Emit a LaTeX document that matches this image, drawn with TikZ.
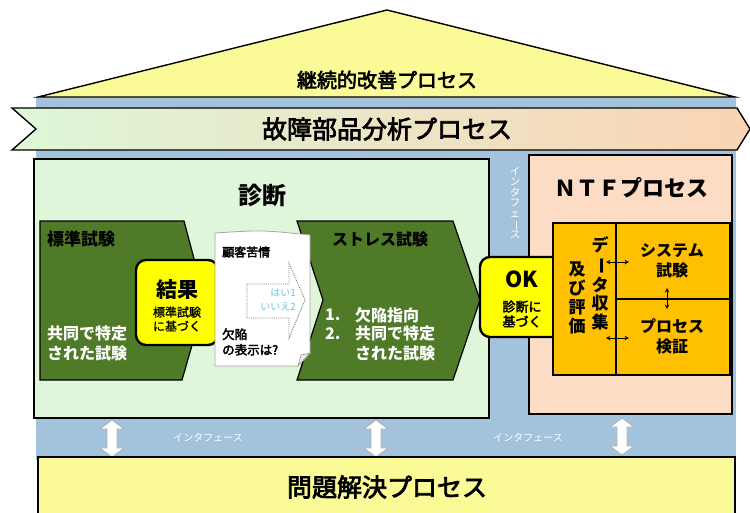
\documentclass[tikz,border=0pt]{standalone}
\usepackage{fontspec}
\setmainfont{Noto Sans CJK JP}
\newfontfamily\jpmed[FakeBold=3]{Noto Sans CJK JP}
\newfontfamily\jpsemi[FakeBold=1.2]{Noto Sans CJK JP}
\definecolor{roofY}{RGB}{250,250,150}
\definecolor{blueBg}{RGB}{163,194,220}
\definecolor{lgreen}{RGB}{224,246,218}
\definecolor{dgreen}{RGB}{79,122,40}
\definecolor{peach}{RGB}{252,220,196}
\definecolor{amber}{RGB}{255,192,0}
\definecolor{yel}{RGB}{255,255,0}
\definecolor{lblue}{RGB}{110,196,226}
\definecolor{bandL}{RGB}{222,247,216}
\definecolor{bandR}{RGB}{250,212,180}
\newcommand{\fs}[1]{\fontsize{#1}{#1}\selectfont}
\newcommand{\vbar}{\rotatebox[origin=c]{-90}{ー}}
\begin{document}
\begin{tikzpicture}[x=1pt,y=-1pt,
  box/.style={draw=black,line width=1.4pt},
  ybox/.style={draw=black,line width=2.4pt,fill=yel,rounded corners=10pt},
  chev/.style={draw=black,line width=1.2pt,fill=dgreen},
  lbl/.style={inner sep=0pt,align=center},
  wtxt/.style={inner sep=0pt,text=white,font=\bfseries\fs{16}},
  smallarr/.style={<->,>=stealth,line width=1pt},
  dblarr/.pic={\draw[gray!60,fill=white,line width=0.8pt]
    (0,0) -- (12,9) -- (5,9) -- (5,28) -- (12,28) -- (0,37) -- (-12,28)
    -- (-5,28) -- (-5,9) -- (-12,9) -- cycle;}]
\useasboundingbox (0,0) rectangle (750,512);
% blue background
\fill[blueBg] (36,97) rectangle (736,460);
% roof
\draw[box,fill=roofY,line join=miter] (38,97) -- (387,10) -- (735,97) -- cycle;
\node[lbl,font=\jpmed\fs{20}] (roofT) at (387,80) {継続的改善プロセス};
% band
\shade[left color=bandL,right color=bandR] (12,108) -- (737,108) -- (750,129) -- (737,150) -- (12,150) -- (36,129) -- cycle;
\draw[box,line join=miter] (12,108) -- (737,108) -- (750,129) -- (737,150) -- (12,150) -- (36,129) -- cycle;
\node[lbl,font=\jpmed\fs{25}] (bandT) at (387,129) {故障部品分析プロセス};
% diagnosis box
\draw[box,fill=lgreen] (34,159) rectangle (489,418);
\node[lbl,font=\bfseries\fs{24}] (diagT) at (262,195) {診断};
% NTF box
\draw[box,fill=peach] (529,155) rectangle (732,414);
\node[lbl,font=\bfseries\fs{22}] (ntfT) at (631,188) {ＮＴＦプロセス};
% vertical interface label
\node[lbl,text=white,font=\fs{10.5}] (ifV) at (515,203) {イ\\ン\\タ\\フ\\ェ\\\vbar\\ス};
% left chevron
\draw[chev,line join=miter] (40,221) -- (184,221) -- (205,300) -- (182,380) -- (40,380) -- cycle;
\node[lbl,anchor=west,font=\bfseries\fs{17}] (stdT) at (47,239) {標準試験};
\node[wtxt,anchor=west,align=left] (stdB) at (47,343) {共同で特定\\[4pt]された試験};
% stress chevron
\draw[chev,line join=miter] (297,221) -- (453,221) -- (480,300) -- (453,380) -- (297,380) -- (323,300) -- cycle;
\node[lbl,font=\bfseries\fs{16}] (strT) at (380,239) {ストレス試験};
\node[wtxt,anchor=west] (n1) at (325,315) {1.};
\node[wtxt,anchor=west] (t1) at (355,315) {欠陥指向};
\node[wtxt,anchor=west] (n2) at (325,334) {2.};
\node[wtxt,anchor=west,align=left] (t2) at (355,343) {共同で特定\\[4pt]された試験};
% result box
\draw[ybox] (136,260) rectangle (218,345);
\node[lbl,font=\bfseries\fs{21}] (resT) at (177,290) {結果};
\node[lbl,font=\jpsemi\fs{12}] (resB) at (177,319) {標準試験\\[2pt]に基づく};
% document
\draw[gray!70,fill=white,line width=0.8pt] (215,233) .. controls (262,230) .. (310,235) -- (310,353) -- (298,366) -- (215,366) -- cycle;
\draw[gray!70,fill=gray!15,line width=0.8pt] (298,366) -- (301,355) -- (310,353) -- cycle;
\node[lbl,anchor=west,font=\jpmed\fs{12}] (docA) at (222,252) {顧客苦情};
\node[lbl,anchor=west,align=left,font=\jpmed\fs{12.5}] (docB) at (222,342) {欠陥\\[3pt]の表示は?};
\draw[gray,densely dotted,fill=white,line width=0.9pt] (247,284) -- (289,284) -- (289,263) -- (305,300) -- (289,338) -- (289,318) -- (247,318) -- cycle;
\node[lbl,anchor=east,text=lblue,font=\fs{10}] (yes) at (296,293) {はい1};
\node[lbl,anchor=east,text=lblue,font=\fs{10}] (no) at (296,307) {いいえ2};
% OK box
\draw[ybox] (480,257) rectangle (563,337);
\node[lbl,font=\bfseries\fs{22}] (okT) at (522,279) {OK};
\node[lbl,font=\jpmed\fs{13}] (okB) at (522,314) {診断に\\[2pt]基づく};
% NTF grid
\draw[box,fill=amber] (553,223) rectangle (730,375);
\draw[box] (616,223) -- (616,375);
\draw[box] (616,299) -- (730,299);
\node[lbl,font=\bfseries\fs{16}] (sysT) at (672,261) {システム\\[4pt]試験};
\node[lbl,font=\bfseries\fs{16}] (prcT) at (672,336) {プロセス\\[4pt]検証};
\node[lbl,font=\bfseries\fs{17}] (dataT) at (600,283) {デ\\[1.5pt]\vbar\\[1.5pt]タ\\[1.5pt]収\\[1.5pt]集};
\node[lbl,font=\bfseries\fs{17}] (evalT) at (577,298) {及\\[2pt]び\\[2pt]評\\[2pt]価};
\coordinate (a1) at (606,262); \coordinate (b1) at (629,262);
\coordinate (a2) at (606,338); \coordinate (b2) at (629,338);
\coordinate (a3) at (667,288); \coordinate (b3) at (667,309);
\draw[smallarr] (a1) -- (b1);
\draw[smallarr] (a2) -- (b2);
\draw[smallarr] (a3) -- (b3);
% bottom interface
\pic at (112,420) {dblarr};
\pic at (376,420) {dblarr};
\pic at (622,418) {dblarr};
\node[lbl,text=white,font=\fs{10}] (ifA) at (208,438) {インタフェース};
\node[lbl,text=white,font=\fs{10}] (ifB) at (528,438) {インタフェース};
% bottom box
\draw[box,fill=roofY] (38,457) rectangle (735,520);
\node[lbl,font=\jpmed\fs{25}] (probT) at (387,487) {問題解決プロセス};
\end{tikzpicture}
\end{document}
